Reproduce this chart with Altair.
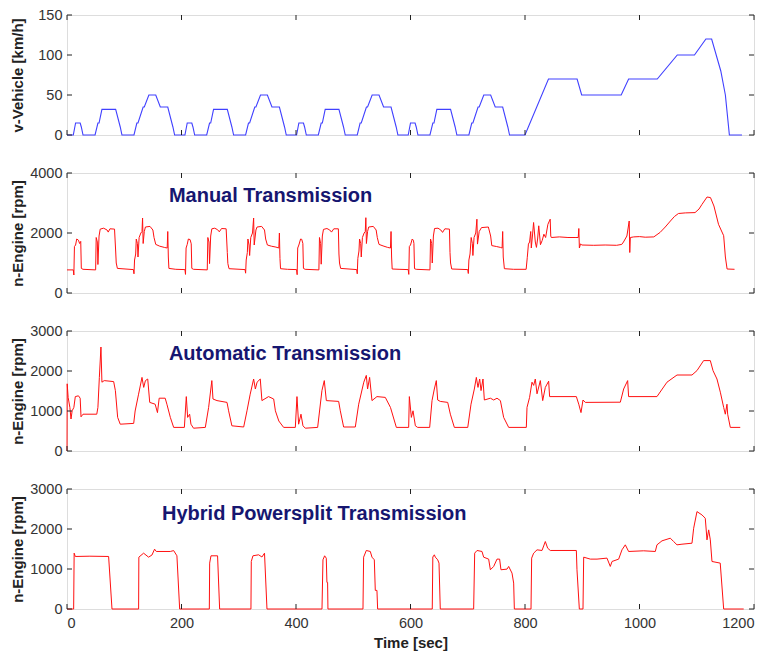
import altair as alt
import pandas as pd

# ---------------- data ----------------
X_TICKS = [0, 200, 400, 600, 800, 1000, 1200]
SPEED_TICKS = [0, 50, 100, 150]
MANUAL_TICKS = [0, 2000, 4000]
AUTO_TICKS = [0, 1000, 2000, 3000]
HYBRID_TICKS = [0, 1000, 2000, 3000]

# vehicle speed [km/h] vs time [s]
SPEED_T = [0, 11, 15, 23, 25, 28, 49, 54, 56, 61, 85, 93, 96, 117, 122, 124, 133, 135, 143, 155, 163, 176, 185, 188,
           195, 206, 210, 218, 220, 223, 244, 249, 251, 256, 280, 288, 291, 312, 317, 319, 328, 330, 338, 350, 358, 371, 380, 383,
           390, 401, 405, 413, 415, 418, 439, 444, 446, 451, 475, 483, 486, 507, 512, 514, 523, 525, 533, 545, 553, 566, 575, 578,
           585, 596, 600, 608, 610, 613, 634, 639, 641, 646, 670, 678, 681, 702, 707, 709, 718, 720, 728, 740, 748, 761, 770, 773,
           800, 841, 891, 899, 968, 981, 1031, 1066, 1096, 1116, 1126, 1142, 1150, 1157, 1179]
SPEED_V = [0, 0, 15, 15, 10, 0, 0, 15, 15, 32, 32, 10, 0, 0, 15, 15, 35, 35, 50, 50, 35, 35, 10, 0,
           0, 0, 15, 15, 10, 0, 0, 15, 15, 32, 32, 10, 0, 0, 15, 15, 35, 35, 50, 50, 35, 35, 10, 0,
           0, 0, 15, 15, 10, 0, 0, 15, 15, 32, 32, 10, 0, 0, 15, 15, 35, 35, 50, 50, 35, 35, 10, 0,
           0, 0, 15, 15, 10, 0, 0, 15, 15, 32, 32, 10, 0, 0, 15, 15, 35, 35, 50, 50, 35, 35, 10, 0,
           0, 70, 70, 50, 50, 70, 70, 100, 100, 120, 120, 80, 50, 0, 0]

# engine speed [rpm], manual transmission  (time, rpm)
MANUAL = [
    (0, 770), (11, 770), (12, 600), (13, 1550), (15, 1600), (17, 1800), (20, 1760), (22, 1650), (24, 1720), (25, 820),
    (28, 790), (50, 770), (51, 1850), (53, 1700), (54, 950), (56, 1900), (58, 2130), (64, 2160), (70, 2100), (72, 2030),
    (75, 2140), (83, 2130), (85, 1400), (86, 1000), (88, 820), (116, 780), (117, 640), (118, 1100), (120, 1300), (121, 1800),
    (123, 1650), (124, 1200), (126, 1850), (129, 2000), (131, 2050), (132, 2500), (133, 1650), (135, 2050), (137, 2200),
    (145, 2220), (150, 2100), (152, 1850), (155, 1620), (162, 1560), (170, 1520), (175, 1500), (176, 2050), (177, 1200),
    (178, 820), (190, 790),
    (206, 780), (207, 620), (208, 1500), (210, 1620), (212, 1800), (215, 1780), (217, 1640), (218, 820), (221, 790),
    (245, 770), (246, 1850), (248, 1700), (249, 980), (251, 1900), (253, 2140), (258, 2160), (263, 2110), (266, 2040),
    (270, 2150), (278, 2140), (280, 1350), (281, 980), (283, 810), (311, 780), (312, 660), (313, 1100), (315, 1350),
    (316, 1800), (318, 1600), (319, 1250), (321, 1850), (324, 2000), (326, 2500), (327, 1600), (330, 2100), (332, 2200),
    (340, 2220), (345, 2100), (347, 1800), (350, 1600), (357, 1560), (365, 1530), (370, 1500), (371, 2000), (372, 1150),
    (373, 810), (385, 790),
    (401, 780), (402, 610), (403, 1500), (405, 1600), (408, 1800), (410, 1790), (412, 1650), (413, 820), (416, 790),
    (440, 770), (441, 1850), (443, 1650), (444, 960), (446, 1900), (448, 2120), (454, 2150), (459, 2100), (462, 2030),
    (466, 2140), (474, 2140), (475, 1300), (476, 1000), (478, 820), (506, 780), (507, 640), (508, 1150), (510, 1400),
    (511, 1800), (513, 1650), (514, 1200), (516, 1850), (519, 2000), (521, 2050), (522, 2510), (523, 1650), (525, 2050),
    (527, 2200), (535, 2220), (540, 2100), (542, 1850), (545, 1620), (552, 1570), (560, 1520), (565, 1500), (566, 2050),
    (567, 1200), (568, 800), (580, 790),
    (596, 780), (597, 620), (598, 1550), (600, 1600), (603, 1800), (605, 1760), (606, 1650), (607, 810), (610, 790),
    (634, 770), (635, 1800), (637, 1650), (638, 1000), (640, 1900), (642, 2150), (648, 2160), (653, 2100), (656, 2020),
    (660, 2140), (668, 2130), (669, 1350), (670, 1000), (672, 800), (700, 780), (701, 650), (702, 1100), (704, 1300),
    (706, 1850), (708, 1650), (709, 1250), (711, 1850), (714, 2000), (716, 2460), (717, 1630), (720, 2050), (724, 2180),
    (736, 2200), (740, 1900), (742, 1580), (750, 1550), (757, 1520), (760, 1500), (761, 2050), (762, 1200), (764, 810),
    (780, 790), (802, 790),
    (804, 1190), (806, 1630), (808, 1700), (810, 2050), (811, 1500), (813, 1900), (815, 2350), (818, 1700), (820, 1520),
    (822, 1800), (824, 2240), (827, 1610), (830, 1750), (833, 1960), (836, 1850), (840, 2290), (844, 2460), (845, 1900),
    (846, 1850), (860, 1870), (875, 1850), (889, 1850), (893, 1850), (894, 2150), (895, 1500), (897, 1640), (899, 1600),
    (920, 1590), (940, 1600), (960, 1590), (969, 1620), (972, 1700), (978, 1900), (982, 2400), (983, 1350), (984, 1850),
    (990, 1870), (1000, 1880), (1010, 1860), (1025, 1870), (1036, 2020), (1045, 2200), (1054, 2400), (1061, 2550),
    (1068, 2650), (1080, 2670), (1097, 2680), (1104, 2800), (1109, 2950), (1118, 3200), (1124, 3180), (1130, 2900),
    (1138, 2290), (1147, 1910), (1150, 1200), (1153, 800), (1166, 790),
]

# engine speed [rpm], automatic transmission
AUTOMATIC = [
    (0, 0), (0.3, 1680), (2, 1340), (5, 1090), (7, 800), (9, 1005), (12, 1090), (14.5, 1360), (20, 1380), (23, 1320),
    (24.5, 855), (28, 920), (52, 920), (54, 1090), (56.5, 1840), (59.3, 2600), (61, 1720), (65, 1760), (81.5, 1735),
    (84.5, 1510), (88.5, 840), (93, 670), (116.5, 690), (119, 1000), (125, 1420), (131, 1840), (134, 1590), (137, 1760),
    (141, 1800), (144.5, 1215), (154, 1170), (158, 960), (161, 1320), (171.5, 1320), (174.5, 1170), (180.5, 840),
    (186.3, 590), (205, 590),
    (208.4, 1360), (210.7, 840), (214.2, 920), (216.5, 670), (221, 570), (241.6, 590), (247.4, 1090), (253, 1760),
    (255, 1300), (262, 1260), (279.5, 1215), (282.3, 1005), (288, 630), (308.6, 600), (314.4, 1005), (320, 1420),
    (326, 1800), (329, 1550), (332, 1720), (337.6, 1800), (340.5, 1260), (352, 1360), (361, 1300), (364, 1005),
    (370, 750), (378.4, 590), (398.8, 590),
    (401.7, 1360), (404.6, 670), (408.7, 920), (412.2, 630), (416.2, 570), (437.8, 590), (445.3, 1510), (449.4, 1760),
    (453, 1260), (474.5, 1240), (477.4, 1005), (483.2, 600), (503.6, 600), (509.5, 1170), (518.4, 1720), (522.8, 1890),
    (525, 1550), (528.6, 1840), (532.7, 1260), (541.4, 1360), (556, 1340), (565, 1090), (575.3, 590), (596.8, 590),
    (598, 1360), (601.5, 840), (604.4, 1005), (608.5, 630), (612.5, 590), (633.5, 590), (637.6, 1260), (641.6, 1550),
    (645.1, 1760), (647.5, 1275), (652, 1240), (665, 1215), (669.6, 920), (676.6, 590), (700, 590), (705.7, 1170),
    (711.5, 1550), (715, 1840), (717.9, 1590), (720.8, 1800), (723.2, 1510), (726.6, 1800), (729, 1275), (739.5, 1320),
    (745.3, 1275), (751.1, 1320), (757, 1260), (762.7, 840), (771.5, 590), (802.3, 590),
    (803.5, 1090), (808, 1340), (812.2, 1720), (815.1, 1640), (818, 1800), (821, 1430), (826.8, 1760), (830.9, 1260),
    (835.5, 1590), (841.3, 1745), (843, 1360), (889.7, 1360), (893.9, 1170), (897.8, 960), (901.3, 1275), (905.4, 1215),
    (966.5, 1220), (972.3, 1550), (979.3, 1760), (981, 1360), (1030.5, 1360), (1048, 1720), (1065.5, 1900),
    (1091.7, 1900), (1100.4, 2010), (1112, 2260), (1123.7, 2260), (1128.4, 2010), (1135.3, 1800), (1141.2, 1470),
    (1147, 1090), (1149.9, 920), (1152.8, 1170), (1154, 920), (1158.6, 590), (1176, 590),
]

# engine speed [rpm], hybrid powersplit transmission
HYBRID = [
    (0, 0), (11.6, 0), (12.5, 1396), (14.5, 1313), (40, 1320), (72.7, 1313), (78.6, 0), (125.1, 0), (125.5, 1296),
    (133.8, 1396), (142.5, 1296), (148.4, 1350), (153, 1496), (156, 1438), (180.4, 1438), (186.3, 1460), (192, 1330),
    (196.8, 0), (248.6, 0), (249.2, 1147), (251.5, 1330), (263, 1330), (266.6, 0), (321.3, 0), (321.9, 1188),
    (324.8, 1330), (334.7, 1355), (340.5, 1300), (345, 1396), (349.3, 0), (445.4, 0), (447.1, 1230), (450, 1330),
    (452.9, 1270), (454, 665), (455.2, 665), (455.8, 0), (517, 0), (518.1, 1296), (522.8, 1463), (529.8, 1438),
    (532.7, 1296), (536.8, 1230), (538.5, 465), (541.4, 465), (542.6, 0),
    (638, 0), (639, 1300), (641.6, 1355), (643.4, 1296), (647.5, 1230), (649.8, 1147), (652, 0), (710.3, 0),
    (712.1, 1396), (716.2, 1463), (724.9, 1438), (727.8, 1296), (736.5, 1247), (739.5, 981), (745.3, 1064),
    (751.1, 1247), (755.7, 1247), (758, 981), (768.6, 997), (771.5, 1064), (777.3, 897), (780.2, 648), (781.4, 0),
    (810.5, 0), (811.6, 1272), (815.1, 1396), (821, 1479), (829.7, 1463), (835.5, 1687), (839.6, 1520), (844.2, 1463),
    (889.7, 1463), (890.8, 981), (894.9, 0), (901.3, 0), (902.5, 1296), (914.1, 1247), (925.8, 1247), (943.2, 1272),
    (949, 1064), (952, 1188), (963.6, 1247), (969.4, 1479), (975.2, 1604), (981, 1438), (1007.3, 1455), (1027.6, 1438),
    (1030.5, 1604), (1039.3, 1704), (1053.8, 1770), (1059.6, 1687), (1065.5, 1604), (1074.2, 1620), (1091.7, 1645),
    (1094.6, 2019), (1100.4, 2435), (1109.1, 2352), (1114.9, 2269), (1117.9, 1728), (1120.8, 1978), (1123.7, 1728),
    (1126.6, 1188), (1141, 1147), (1147, 0), (1182, 0),
]

LABELS = ["Manual Transmission", "Automatic Transmission", "Hybrid Powersplit Transmission"]
LABEL_T = [178, 178, 166]
LABEL_RPM = [3240, 2435, 2375]

# ---------------- chart ----------------
W, H = 687, 120
TICK = 5
FONT = "Liberation Sans"
FRAME = "#222222"
XSCALE = alt.Scale(domain=[0, 1200], nice=False, zero=False)


def panel(df, color, sw, ymax, yticks, ytitle, bottom=False, label=None):
    yscale = alt.Scale(domain=[0, ymax], nice=False, zero=False)
    if bottom:
        xaxis = alt.Axis(orient="bottom", values=X_TICKS, format="d", ticks=False, domain=False, grid=False,
                         labelFont=FONT, labelFontSize=14.5, labelColor="#333333", labelPadding=7,
                         title="Time [sec]", titleFont=FONT, titleFontSize=15, titleFontWeight="bold",
                         titleColor="#222222", titlePadding=6)
    else:
        xaxis = None
    yaxis = alt.Axis(orient="left", values=yticks, format="d", ticks=False, domain=False, grid=False,
                     labelFont=FONT, labelFontSize=14.5, labelColor="#333333", labelPadding=5,
                     title=ytitle, titleFont=FONT, titleFontSize=15, titleFontWeight="bold",
                     titleColor="#222222", titleX=-42, titleY=H / 2)
    line = alt.Chart(df).mark_line(color=color, strokeWidth=sw).encode(
        x=alt.X("t:Q", scale=XSCALE, axis=xaxis),
        y=alt.Y("v:Q", scale=yscale, axis=yaxis),
    )
    xt = pd.DataFrame({"t": X_TICKS})
    yt = pd.DataFrame({"v": yticks})
    rule = dict(color=FRAME, strokeWidth=1)
    xtop = alt.Chart(xt).mark_rule(**rule).encode(
        x=alt.X("t:Q", scale=XSCALE, axis=None), y=alt.value(0), y2=alt.value(TICK))
    xbot = alt.Chart(xt).mark_rule(**rule).encode(
        x=alt.X("t:Q", scale=XSCALE, axis=None), y=alt.value(H - TICK), y2=alt.value(H))
    yleft = alt.Chart(yt).mark_rule(**rule).encode(
        y=alt.Y("v:Q", scale=yscale, axis=None), x=alt.value(0), x2=alt.value(TICK))
    yright = alt.Chart(yt).mark_rule(**rule).encode(
        y=alt.Y("v:Q", scale=yscale, axis=None), x=alt.value(W - TICK), x2=alt.value(W))
    layers = [line, xtop, xbot, yleft, yright]
    if label is not None:
        ldf = pd.DataFrame({"t": [LABEL_T[label]], "v": [LABEL_RPM[label]], "label": [LABELS[label]]})
        txt = alt.Chart(ldf).mark_text(align="left", baseline="middle", font=FONT, fontSize=20,
                                       fontWeight="bold", color="#161670").encode(
            x=alt.X("t:Q", scale=XSCALE, axis=None),
            y=alt.Y("v:Q", scale=yscale, axis=None),
            text="label:N",
        )
        layers.append(txt)
    return alt.layer(*layers).resolve_axis(x="independent", y="independent").properties(width=W, height=H)


speed_df = pd.DataFrame({"t": SPEED_T, "v": SPEED_V})
man_df = pd.DataFrame(MANUAL, columns=["t", "v"])
aut_df = pd.DataFrame(AUTOMATIC, columns=["t", "v"])
hyb_df = pd.DataFrame(HYBRID, columns=["t", "v"])

p1 = panel(speed_df, "#4040ff", 1.1, 150, SPEED_TICKS, "v-Vehicle [km/h]")
p2 = panel(man_df, "#ff1010", 1.0, 4000, MANUAL_TICKS, "n-Engine [rpm]", label=0)
p3 = panel(aut_df, "#ff1010", 1.0, 3000, AUTO_TICKS, "n-Engine [rpm]", label=1)
p4 = panel(hyb_df, "#ff1010", 1.0, 3000, HYBRID_TICKS, "n-Engine [rpm]", bottom=True, label=2)

chart = alt.vconcat(p1, p2, p3, p4, spacing=38, bounds="flush").properties(
    padding={"left": 1, "top": -2, "right": 0, "bottom": 0}
).configure_view(stroke=FRAME, strokeWidth=1).configure(background="white")

chart.save("out.html", embed_options={"renderer": "svg", "actions": False})
